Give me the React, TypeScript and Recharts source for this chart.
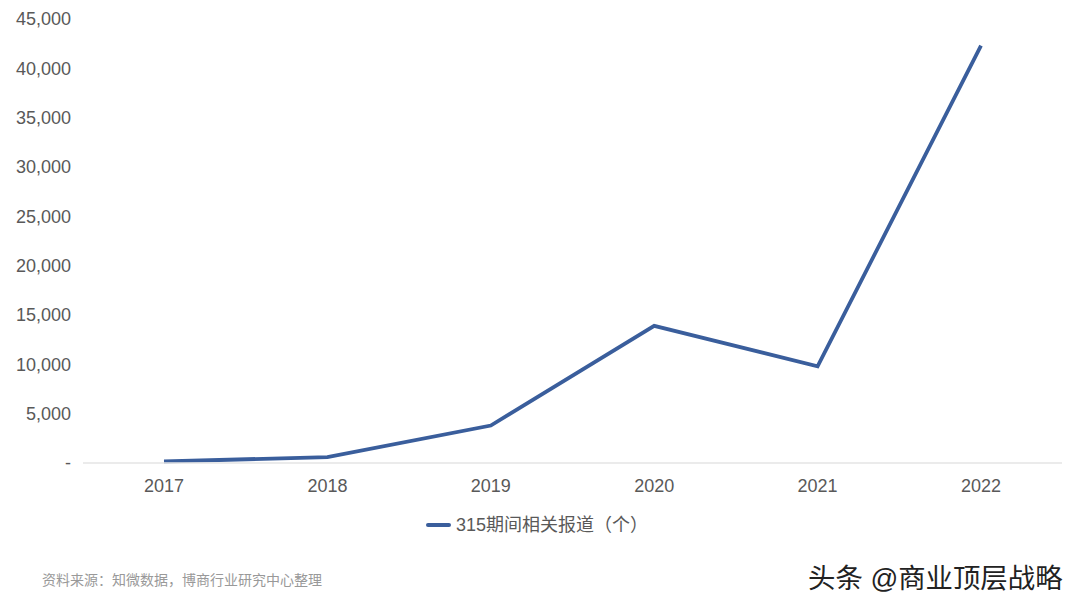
import React from 'react';
import { LineChart, Line, XAxis, YAxis, Legend } from 'recharts';

const years = ['2017', '2018', '2019', '2020', '2021', '2022'];
const reports = [150, 600, 3800, 13900, 9800, 42300];
const yTicks = [0, 5000, 10000, 15000, 20000, 25000, 30000, 35000, 40000, 45000];
const seriesName = '315期间相关报道（个）';

const data = years.map((year, i) => ({ year, reports: reports[i] }));

const FONT = '"Liberation Sans", Arial, "Noto Sans CJK SC", sans-serif';
const CJK = '"Liberation Sans", "Noto Sans CJK SC", sans-serif';
const LINE_COLOR = '#3a5e9c';

const formatTick = (v: number) => (v === 0 ? '-' : v.toLocaleString('en-US'));

const renderLegend = () => (
  <div style={{ display: 'flex', alignItems: 'center', color: '#595959', fontSize: 18, fontFamily: CJK, lineHeight: '26px' }}>
    <span style={{ display: 'inline-block', width: 25, height: 4, borderRadius: 2, background: LINE_COLOR, marginRight: 5 }} />
    <span>{seriesName}</span>
  </div>
);

export default function App() {
  return (
    <div style={{ position: 'absolute', left: 0, top: 0, width: 1080, height: 608, background: '#fff', overflow: 'hidden', fontFamily: FONT }}>
      <LineChart
        width={1080}
        height={608}
        data={data}
        margin={{ top: 19, right: 18, left: 0, bottom: 89 }}
      >
        <XAxis
          dataKey="year"
          axisLine={{ stroke: '#e4e4e4', strokeWidth: 1.5 }}
          tickLine={false}
          tick={{ fontSize: 18, fill: '#595959', fontFamily: FONT }}
          tickMargin={10}
          interval={0}
          padding={{ left: 81, right: 81 }}
        />
        <YAxis
          domain={[0, 45000]}
          ticks={yTicks}
          width={83}
          axisLine={false}
          tickLine={false}
          tick={{ fontSize: 18, fill: '#595959', fontFamily: FONT }}
          tickFormatter={formatTick}
          tickMargin={6}
          interval={0}
        />
        <Legend
          content={renderLegend}
          wrapperStyle={{ left: 426, top: 512, width: 'auto' }}
        />
        <Line
          type="linear"
          name={seriesName}
          dataKey="reports"
          stroke={LINE_COLOR}
          strokeWidth={3.8}
          dot={false}
          isAnimationActive={false}
        />
      </LineChart>
      <div style={{ position: 'absolute', left: 42, top: 569, color: '#999', fontSize: 14, fontFamily: CJK }}>
        资料来源：知微数据，博商行业研究中心整理
      </div>
      <div style={{ position: 'absolute', left: 808, top: 556, color: '#222', fontSize: 27.4, fontFamily: CJK, whiteSpace: 'nowrap' }}>
        头条 @商业顶层战略
      </div>
    </div>
  );
}
